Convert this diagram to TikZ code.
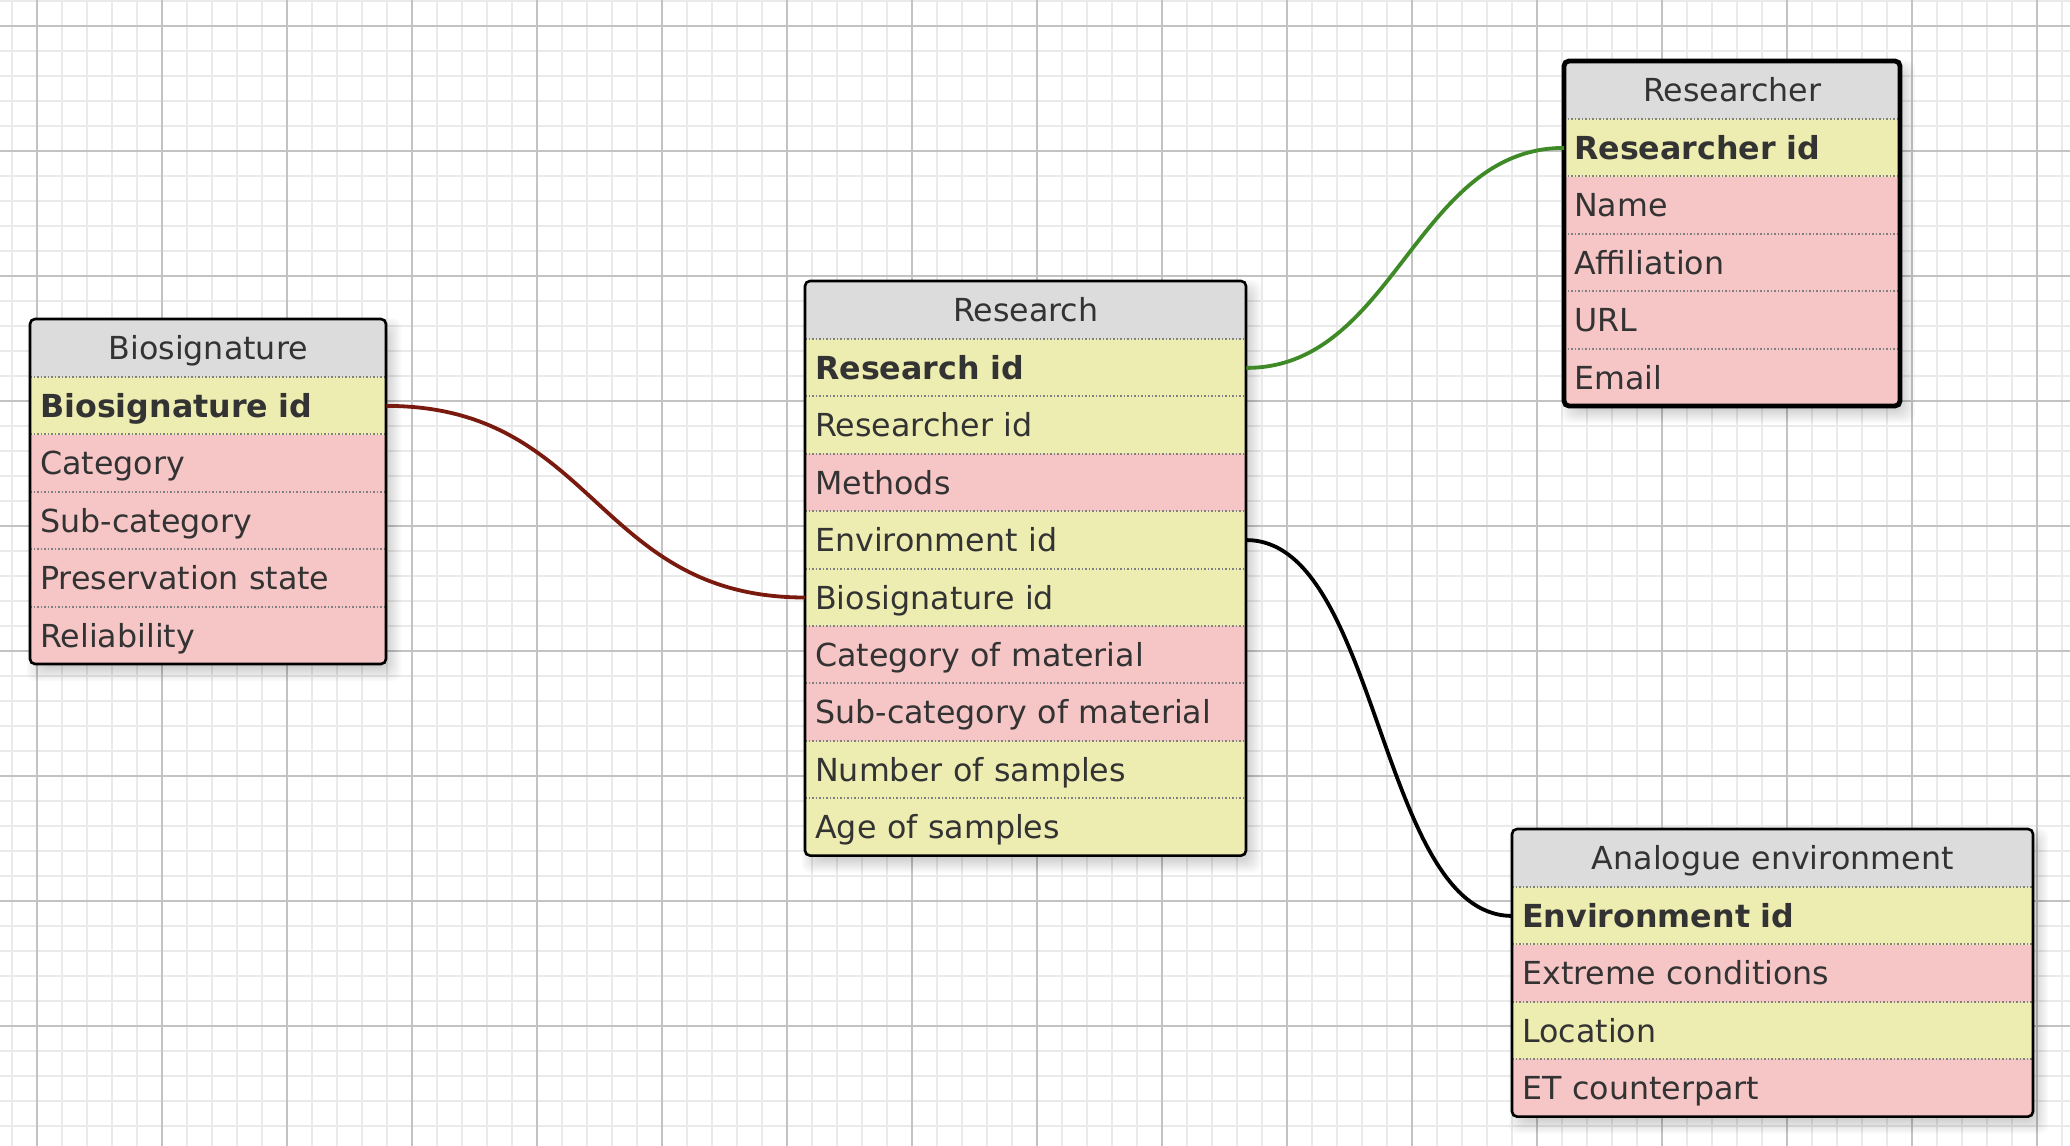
\documentclass[tikz,border=0pt]{standalone}
\usepackage{fontspec}
\setmainfont{DejaVu Sans}
\definecolor{hdr}{HTML}{DCDCDC}
\definecolor{ylw}{HTML}{EEEDB1}
\definecolor{pnk}{HTML}{F6C6C6}
\definecolor{txt}{HTML}{333333}
\definecolor{gridminor}{HTML}{EAEAEA}
\definecolor{gridmajor}{HTML}{C3C3C3}
\definecolor{divc}{HTML}{808080}
\definecolor{relred}{HTML}{7A1A0F}
\definecolor{relgreen}{HTML}{3E8A26}
\newcommand\erfont{\fontsize{31.7}{38}\selectfont}
\tikzset{
  basecell/.style={rectangle, anchor=north west, inner xsep=10pt, inner ysep=0pt,
    text=txt, font=\erfont, text height=28.5pt, text depth=5.4pt},
  hcell/.style={basecell, minimum height=58pt, fill=hdr, align=center},
  rcell/.style={basecell, minimum height=57.4pt, align=left},
  rb/.style={font=\erfont\bfseries},
  rn/.style={font=\erfont},
  divider/.style={divc, line width=1.9pt, dash pattern=on 1.9pt off 1.6pt},
  relation/.style={line width=3.8pt},
}
% #1 name, #2 x, #3 y, #4 width, #5 title, #6 number of rows, #7 rows, #8 border width
\newcommand\erentity[8]{%
  \pgfmathsetmacro\erTW{#4-20}%
  \pgfmathsetmacro\erH{58+#6*57.4}%
  \foreach \s in {-5,-3,...,9}{%
    \fill[black,opacity=0.025,rounded corners=9pt] ({#2+6-\s},{#3+8-\s}) rectangle ({#2+#4+6+\s},{#3+\erH+8+\s});}
  \begin{scope}
    \clip[rounded corners=5pt] (#2,#3) rectangle ++(#4,\erH);
    \node[hcell, text width=\erTW pt] (#1-0) at (#2,#3) {#5};
    \foreach [count=\i] \c/\f/\t in {#7}{%
      \node[rcell, fill=\c, \f, text width=\erTW pt] (#1-\i) at ({#2},{#3+58+(\i-1)*57.4}) {\t};
    }
    \foreach \i in {1,...,#6}{%
      \draw[divider] ({#2},{#3+58+(\i-1)*57.4}) -- ++(#4,0);
    }
  \end{scope}
  \draw[line width=#8, rounded corners=5pt] (#2,#3) rectangle ++(#4,\erH);
}
\begin{document}
\begin{tikzpicture}[x=1pt,y=-1pt]
\useasboundingbox (0,0) rectangle (2070,1146);
\fill[white] (0,0) rectangle (2070,1146);
% grid
\begin{scope}
\clip (0,0) rectangle (2070,1146);
\foreach \x in {12,37,...,2070} \draw[gridminor, line width=1.3pt] (\x,0) -- (\x,1146);
\foreach \y in {1,26,...,1146} \draw[gridminor, line width=1.3pt] (0,\y) -- (2070,\y);
\foreach \x in {37,162,...,2070} \draw[gridmajor, line width=1.6pt] (\x,0) -- (\x,1146);
\foreach \y in {26,151,...,1146} \draw[gridmajor, line width=1.6pt] (0,\y) -- (2070,\y);
\end{scope}
% entities
\erentity{bio}{30}{319}{356}{Biosignature}{5}{ylw/rb/Biosignature id, pnk/rn/Category, pnk/rn/Sub-category, pnk/rn/Preservation state, pnk/rn/Reliability}{2.6pt}
\erentity{res}{805}{281}{441}{Research}{9}{ylw/rb/Research id, ylw/rn/Researcher id, pnk/rn/Methods, ylw/rn/Environment id, ylw/rn/Biosignature id, pnk/rn/Category of material, pnk/rn/Sub-category of material, ylw/rn/Number of samples, ylw/rn/Age of samples}{2.6pt}
\erentity{rsr}{1564}{61}{336}{Researcher}{5}{ylw/rb/Researcher id, pnk/rn/Name, pnk/rn/Affiliation, pnk/rn/URL, pnk/rn/Email}{4.8pt}
\erentity{ana}{1512}{829}{521}{Analogue environment}{4}{ylw/rb/Environment id, pnk/rn/Extreme conditions, ylw/rn/Location, pnk/rn/ET counterpart}{2.6pt}
% relations
\draw[relation, relred] (bio-1.east) .. controls +(210,0) and +(-210,0) .. (res-5.west);
\draw[relation, relgreen] (res-1.east) .. controls +(148,0) and +(-148,0) .. (rsr-1.west);
\draw[relation, black] (res-4.east) .. controls +(133,0) and +(-133,0) .. (ana-1.west);
\end{tikzpicture}
\end{document}
